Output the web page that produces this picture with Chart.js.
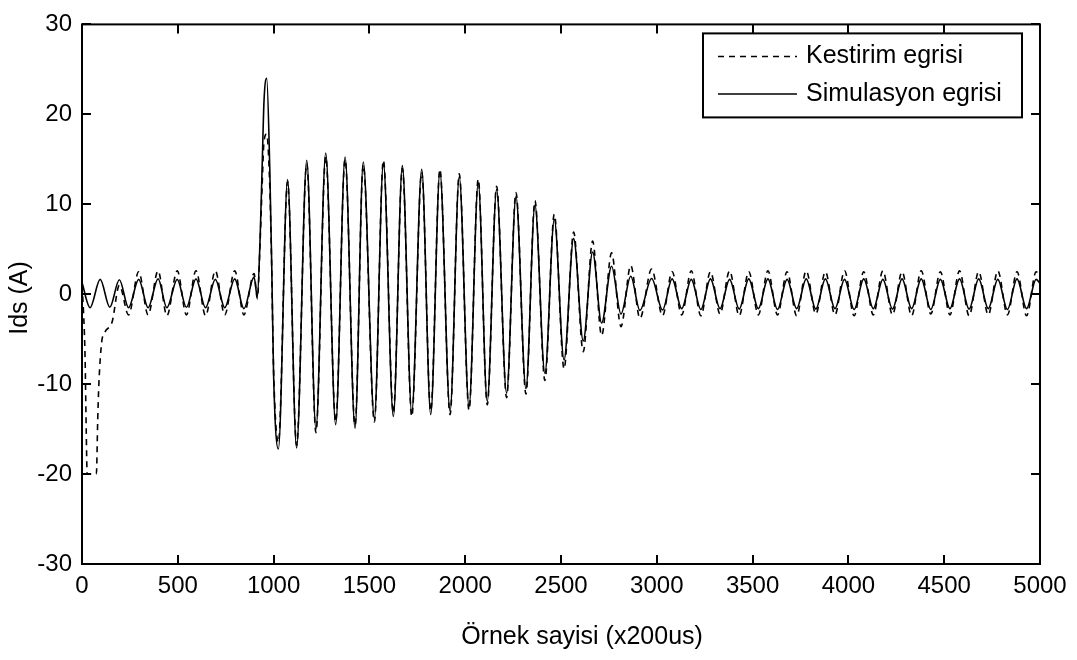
<!DOCTYPE html>
<html>
<head>
<meta charset="utf-8">
<script src="https://cdn.jsdelivr.net/npm/chart.js@4.4.1/dist/chart.umd.min.js"></script>
<style>
  html, body { margin: 0; padding: 0; background: #fff; }
  #wrap { width: 1077px; height: 660px; position: relative; }
</style>
</head>
<body>
<div id="wrap"><canvas id="c"></canvas></div>
<script>
// ---- data ----
const xTicks = [0, 500, 1000, 1500, 2000, 2500, 3000, 3500, 4000, 4500, 5000];
const yTicks = [-30, -20, -10, 0, 10, 20, 30];
const xLabel = 'Örnek sayisi (x200us)';
const yLabel = 'Ids (A)';
const seriesNames = ['Kestirim egrisi', 'Simulasyon egrisi'];

// Simulasyon egrisi (solid): sample index of each turning point and its value
const simX = [0, 42, 95, 145, 195, 243, 296, 345, 397, 443, 497, 545, 595, 645, 696, 745, 797, 845, 898, 915,
  930, 940, 950, 964, 980, 990, 1000, 1025, 1073, 1120, 1173, 1221, 1272, 1324, 1373, 1425, 1468, 1526, 1573,
  1625, 1672, 1721, 1773, 1820, 1868, 1921, 1969, 2020, 2068, 2115, 2164, 2216, 2265, 2317, 2364, 2416, 2465,
  2516, 2566, 2616, 2665, 2712, 2764, 2813, 2864, 2912, 2973, 3030, 3080, 3130, 3180, 3230, 3280, 3330, 3380,
  3430, 3480, 3530, 3580, 3630, 3680, 3730, 3780, 3830, 3880, 3930, 3980, 4030, 4080, 4130, 4180, 4230, 4280,
  4330, 4380, 4430, 4480, 4530, 4580, 4630, 4680, 4730, 4780, 4830, 4880, 4930, 4980, 5000];
const simY = [1.3, -1.5, 1.65, -1.45, 1.6, -1.5, 1.65, -1.5, 1.7, -1.5, 1.65, -1.45, 1.7, -1.5, 1.65, -1.5, 1.7, -1.6, 1.9, -0.3,
  6.5, 14, 21.5, 24, 14, 3.5, -9, -17.2, 12.75, -17.1, 14.9, -15.0, 15.7, -14.5, 15.25, -14.9, 14.7, -13.8, 14.6,
  -13.6, 14.3, -13.2, 13.9, -13.4, 13.6, -13.0, 13.05, -12.5, 12.4, -11.9, 11.65, -11.0, 10.85, -10.5, 9.9, -8.8, 8.3,
  -7.3, 6.2, -5.2, 4.7, -3.2, 3.1, -2.2, 2.0, -1.8, 1.75, -1.75, 1.7, -1.6, 1.65, -1.7, 1.7, -1.6, 1.65,
  -1.65, 1.7, -1.6, 1.7, -1.7, 1.65, -1.6, 1.7, -1.65, 1.7, -1.6, 1.65, -1.7, 1.7, -1.6, 1.65, -1.65, 1.7,
  -1.6, 1.7, -1.7, 1.65, -1.6, 1.7, -1.65, 1.7, -1.6, 1.65, -1.7, 1.7, -1.6, 1.65, 1.2];

// Kestirim egrisi (dashed)
const estX = [0, 8, 16, 22, 27, 75, 82, 88, 103, 120, 157, 195, 243, 296, 345, 397, 443, 497, 545, 595, 645, 696,
  745, 797, 845, 898, 915, 930, 940, 950, 964, 980, 990, 1000, 1025, 1073, 1120, 1173, 1221, 1272, 1324, 1373,
  1425, 1468, 1526, 1573, 1625, 1672, 1721, 1773, 1820, 1868, 1921, 1969, 2020, 2068, 2115, 2164, 2216, 2265,
  2317, 2364, 2416, 2465, 2516, 2566, 2616, 2665, 2712, 2764, 2813, 2864, 2912, 2973, 3030, 3080, 3130, 3180,
  3230, 3280, 3330, 3380, 3430, 3480, 3530, 3580, 3630, 3680, 3730, 3780, 3830, 3880, 3930, 3980, 4030, 4080,
  4130, 4180, 4230, 4280, 4330, 4380, 4430, 4480, 4530, 4580, 4630, 4680, 4730, 4780, 4830, 4880, 4930, 4980, 5000];
const estY = [1.0, -2, -7, -15, -20, -20, -14, -10, -5.3, -4.2, -3.1, 1.0, -2.3, 2.5, -2.3, 2.6, -2.4, 2.6, -2.3, 2.6, -2.4, 2.6,
  -2.3, 2.6, -2.3, 2.3, -0.5, 6, 12, 17, 17.8, 12, 3, -8.5, -16.5, 12.5, -16.8, 14.5, -15.4, 15.3, -14.2, 15.0,
  -14.6, 14.4, -14.2, 14.9, -13.2, 14.0, -13.6, 13.6, -13.0, 13.9, -13.4, 13.4, -12.9, 12.8, -12.3, 12.0, -11.5, 11.3,
  -11.1, 10.4, -9.6, 8.9, -8.3, 6.9, -6.4, 5.9, -4.6, 4.6, -3.6, 3.2, -2.7, 2.8, -2.4, 2.5, -2.3, 2.6,
  -2.4, 2.5, -2.2, 2.6, -2.4, 2.5, -2.3, 2.6, -2.3, 2.5, -2.4, 2.6, -2.2, 2.5, -2.3, 2.6, -2.4, 2.5,
  -2.3, 2.6, -2.3, 2.5, -2.4, 2.6, -2.2, 2.5, -2.3, 2.6, -2.4, 2.5, -2.3, 2.6, -2.3, 2.5, -2.4, 2.5, 1.9];

const toPts = (xs, ys) => xs.map((v, i) => ({ x: v, y: ys[i] }));
const FONT = 'Liberation Sans, Arial, sans-serif';

const framePlugin = {
  id: 'frame',
  afterDraw(chart) {
    const { ctx, chartArea: a, scales: { x, y } } = chart;
    ctx.save();
    ctx.strokeStyle = '#000';
    ctx.lineWidth = 2;
    ctx.strokeRect(a.left, a.top, a.right - a.left, a.bottom - a.top);
    ctx.beginPath();
    const TL = 9;
    x.ticks.forEach(t => {
      const p = Math.round(x.getPixelForValue(t.value));
      ctx.moveTo(p, a.bottom); ctx.lineTo(p, a.bottom - TL);
      ctx.moveTo(p, a.top); ctx.lineTo(p, a.top + TL);
    });
    y.ticks.forEach(t => {
      const p = Math.round(y.getPixelForValue(t.value));
      ctx.moveTo(a.left, p); ctx.lineTo(a.left + TL, p);
      ctx.moveTo(a.right, p); ctx.lineTo(a.right - TL, p);
    });
    ctx.stroke();

    // axis titles
    ctx.fillStyle = '#000';
    ctx.font = '25px ' + FONT;
    ctx.textAlign = 'center';
    ctx.textBaseline = 'middle';
    ctx.fillText(xLabel, 582, 637);
    ctx.save();
    ctx.translate(20, 298);
    ctx.rotate(-Math.PI / 2);
    ctx.fillText(yLabel, 0, 0);
    ctx.restore();

    // legend box (MATLAB style, inside axes)
    const bx = a.right - 18 - 319, by = a.top + 9, bw = 319, bh = 84;
    ctx.fillStyle = '#fff';
    ctx.fillRect(bx, by, bw, bh);
    ctx.lineWidth = 2;
    ctx.strokeRect(bx, by, bw, bh);
    chart.data.datasets.forEach((ds, i) => {
      const ry = by + 23 + i * 37.5;
      ctx.beginPath();
      ctx.lineWidth = 1.5;
      ctx.setLineDash(ds.borderDash || []);
      ctx.moveTo(bx + 15, ry); ctx.lineTo(bx + 94, ry);
      ctx.stroke();
      ctx.setLineDash([]);
      ctx.fillStyle = '#000';
      ctx.textAlign = 'left';
      ctx.textBaseline = 'middle';
      ctx.font = '25px ' + FONT;
      ctx.fillText(ds.label, bx + 103, ry);
    });
    ctx.restore();
  }
};

new Chart(document.getElementById('c'), {
  type: 'line',
  data: {
    datasets: [
      { label: seriesNames[0], data: toPts(estX, estY), borderColor: '#000', borderWidth: 1.6,
        borderDash: [6, 5], pointRadius: 0, cubicInterpolationMode: 'monotone', fill: false },
      { label: seriesNames[1], data: toPts(simX, simY), borderColor: '#000', borderWidth: 1.6,
        pointRadius: 0, cubicInterpolationMode: 'monotone', fill: false }
    ]
  },
  options: {
    responsive: true,
    maintainAspectRatio: false,
    animation: false,
    devicePixelRatio: 1,
    layout: { padding: { left: 0, right: 37, top: 20, bottom: 0 } },
    plugins: { legend: { display: false }, tooltip: { enabled: false } },
    scales: {
      x: {
        type: 'linear', min: 0, max: 5000,
        afterBuildTicks: s => { s.ticks = xTicks.map(v => ({ value: v })); },
        afterFit: s => { s.height = 96; },
        grid: { display: false, drawTicks: false },
        border: { display: false },
        ticks: { color: '#000', font: { family: FONT, size: 24 }, padding: 8, maxRotation: 0, autoSkip: false,
                 callback: v => String(v) }
      },
      y: {
        type: 'linear', min: -30, max: 30,
        afterBuildTicks: s => { s.ticks = yTicks.map(v => ({ value: v })); },
        afterFit: s => { s.width = 82; },
        grid: { display: false, drawTicks: false },
        border: { display: false },
        ticks: { color: '#000', font: { family: FONT, size: 24 }, padding: 10, autoSkip: false,
                 callback: v => String(v) }
      }
    }
  },
  plugins: [framePlugin]
});
</script>
</body>
</html>
